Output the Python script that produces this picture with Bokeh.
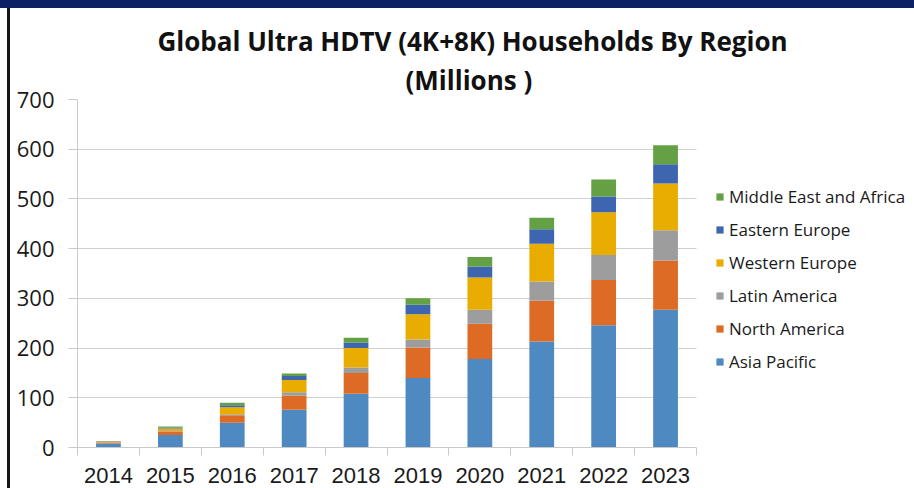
from bokeh.plotting import figure
from bokeh.layouts import column, row
from bokeh.models import (Range1d, LinearAxis, FixedTicker, Legend, LegendItem, Title,
                          ColumnDataSource, Div, BoxAnnotation)
from bokeh.embed import file_html
from bokeh.resources import INLINE

# ---- data (millions of households) ----
years = ["2014", "2015", "2016", "2017", "2018", "2019", "2020", "2021", "2022", "2023"]
asia_pacific = [8, 25, 50, 76, 108, 140, 178, 213, 246, 277]
north_america = [2, 7, 15, 28, 42, 61, 71, 82, 91, 99]
latin_america = [0.5, 1, 2, 7, 11, 16, 28, 39, 50, 61]
western_europe = [1.5, 5, 14, 25, 39, 51, 65, 76, 86, 94]
eastern_europe = [0.5, 2, 4, 8, 11, 19, 22, 29, 32, 39]
middle_east_africa = [0.5, 2, 5, 5, 10, 13, 19, 23, 34, 38]

region_names = ["Asia Pacific", "North America", "Latin America",
                "Western Europe", "Eastern Europe", "Middle East and Africa"]
region_keys = ["ap", "na", "la", "we", "ee", "mea"]
region_colors = ["#4f89c1", "#dd6b26", "#9d9d9d", "#e8ad00", "#3e66b0", "#64a044"]
y_ticks = [0, 100, 200, 300, 400, 500, 600, 700]

# category slots: each year occupies one unit, bar centred in its slot
n = len(years)
slot_centers = [i + 0.5 for i in range(n)]
slot_edges = list(range(n + 1))

source = ColumnDataSource(dict(
    x=slot_centers, ap=asia_pacific, na=north_america, la=latin_america,
    we=western_europe, ee=eastern_europe, mea=middle_east_africa))

FONT = "Open Sans"
FIG_W, FIG_H = 904, 480
BORDER_L = 67
PLOT_W = 619            # pixel width of the bar area (10 slots)
FRAME_W = FIG_W - BORDER_L   # frame runs to the right edge; legend sits in it

p = figure(width=FIG_W, height=FIG_H,
           x_range=Range1d(0, n * FRAME_W / PLOT_W),
           y_range=Range1d(0, 700), output_backend="svg", toolbar_location=None,
           min_border_left=BORDER_L, min_border_right=0, min_border_top=91,
           min_border_bottom=41, x_axis_location=None, y_axis_location=None,
           margin=0)
p.outline_line_color = None
p.background_fill_color = "white"
p.border_fill_color = "white"

p.ygrid.ticker = FixedTicker(ticks=y_ticks)
p.ygrid.grid_line_color = "#d0d0d0"
p.xgrid.grid_line_color = None

renderers = p.vbar_stack(region_keys, x="x", width=0.4, source=source,
                         color=region_colors, line_color=None)

# blank out the grid to the right of the bar area (legend zone)
p.add_layout(BoxAnnotation(left=n, fill_color="white", fill_alpha=1, line_color=None))

# y axis
yaxis = LinearAxis(ticker=FixedTicker(ticks=y_ticks))
yaxis.axis_line_color = "#c9c9c9"
yaxis.major_tick_line_color = "#c9c9c9"
yaxis.major_tick_out = 9
yaxis.major_tick_in = 0
yaxis.minor_tick_line_color = None
yaxis.major_label_standoff = 14
yaxis.major_label_text_font = FONT
yaxis.major_label_text_font_size = "22px"
yaxis.major_label_text_color = "#1a1a1a"
p.add_layout(yaxis, "left")

# x axis: year labels at slot centres, tick marks at slot boundaries
xaxis = LinearAxis(ticker=FixedTicker(ticks=slot_centers, minor_ticks=slot_edges),
                   major_label_overrides={c: y for c, y in zip(slot_centers, years)},
                   bounds=(0, n))
xaxis.axis_line_color = "#c9c9c9"
xaxis.major_tick_line_color = None
xaxis.major_tick_out = 0
xaxis.major_tick_in = 0
xaxis.minor_tick_line_color = "#c9c9c9"
xaxis.minor_tick_out = 8
xaxis.minor_tick_in = 0
xaxis.major_label_standoff = 12
xaxis.major_label_text_font = "Liberation Sans"
xaxis.major_label_text_font_size = "22px"
xaxis.major_label_text_color = "#1a1a1a"
p.add_layout(xaxis, "below")

# legend (top row = last stacked series)
items = [LegendItem(label=name, renderers=[r])
         for name, r in zip(region_names[::-1], renderers[::-1])]
legend = Legend(items=items, location=(PLOT_W + 19, 74))
legend.padding = 0
legend.margin = 0
legend.spacing = 9
legend.glyph_width = 9
legend.glyph_height = 9
legend.label_height = 24
legend.label_standoff = 5
legend.label_text_font = FONT
legend.label_text_font_size = "17px"
legend.label_text_color = "#1a1a1a"
legend.border_line_color = None
legend.background_fill_alpha = 0
p.add_layout(legend, "center")

# two-line title
t2 = Title(text="(Millions )", align="left", offset=328, standoff=3,
           text_font=FONT, text_font_size="26px", text_font_style="bold",
           text_color="#111111")
t1 = Title(text="Global Ultra HDTV (4K+8K) Households By Region", align="left",
           offset=80, standoff=0, text_font=FONT, text_font_size="26px",
           text_font_style="bold", text_color="#111111")
p.add_layout(t2, "above")
p.add_layout(t1, "above")

# page frame: navy band on top, dark rule on the left
band = Div(width=914, height=8, margin=0, styles={"background-color": "#0c2163"})
gap = Div(width=7, height=FIG_H, margin=0)
rule = Div(width=3, height=FIG_H, margin=0, styles={"background-color": "#161616"})
layout = column(band, row(gap, rule, p, margin=0, spacing=0), margin=0, spacing=0)

open("out.html", "w").write(file_html(layout, INLINE))
